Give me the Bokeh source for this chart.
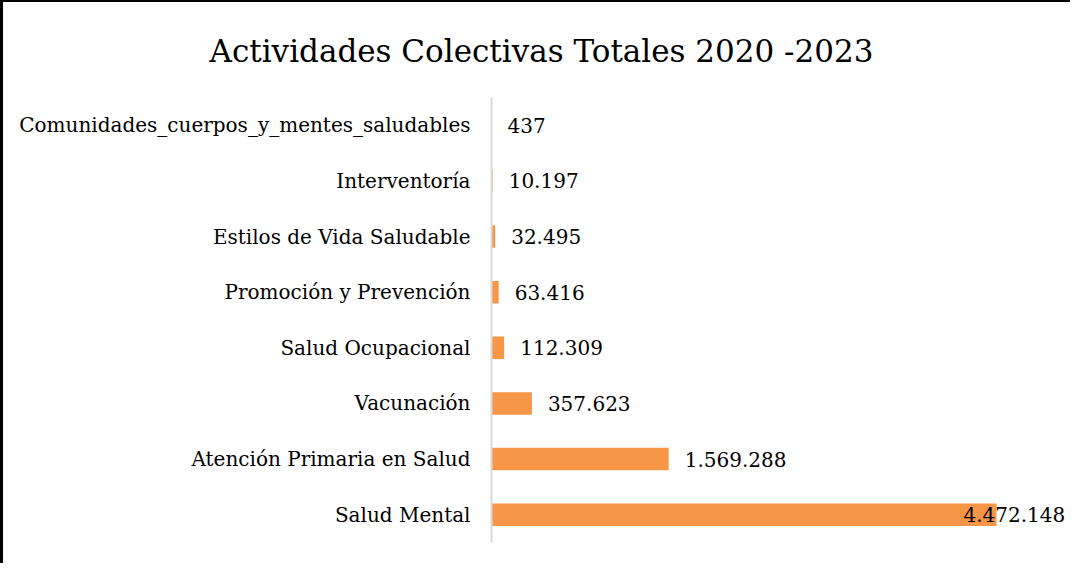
from bokeh.plotting import figure
from bokeh.models import Range1d, FactorRange, ColumnDataSource, Title
from bokeh.core.properties import value
from bokeh.embed import file_html
from bokeh.resources import INLINE

title_text = "Actividades Colectivas Totales 2020 -2023"
categories = [
    "Comunidades_cuerpos_y_mentes_saludables",
    "Interventoría",
    "Estilos de Vida Saludable",
    "Promoción y Prevención",
    "Salud Ocupacional",
    "Vacunación",
    "Atención Primaria en Salud",
    "Salud Mental",
]
values = [437, 10197, 32495, 63416, 112309, 357623, 1569288, 4472148]

FONT = "DejaVu Serif"
BAR = "#F79646"

def fmt(v):
    return f"{v:,}".replace(",", ".")

vmax = max(values)
src = ColumnDataSource(dict(
    cat=categories,
    val=values,
    lab=[fmt(v) for v in values],
    off=[-33 if v == vmax else 16 for v in values],
))

W, H = 1070, 563
p = figure(
    width=W, height=H,
    y_range=FactorRange(factors=categories[::-1]),
    x_range=Range1d(0, vmax * 582 / 505),
    output_backend="svg", toolbar_location=None,
    min_border_left=488, min_border_right=0,
    min_border_top=95, min_border_bottom=23,
)
p.styles = {"border-left": "3px solid black", "border-top": "2px solid black"}
p.outline_line_color = None
p.background_fill_color = "white"
p.border_fill_color = "white"
p.xgrid.visible = False
p.ygrid.visible = False
p.xaxis.visible = False

p.hbar(y="cat", right="val", left=0, height=0.405, source=src,
       fill_color=BAR, line_color=None)

p.text(x="val", y="cat", text="lab", source=src, x_offset="off",
       text_font=value(FONT), text_font_size="20px", text_color="#000000",
       text_baseline="middle", text_align="left")

ax = p.yaxis[0]
ax.axis_line_color = "#d9d9d9"
ax.axis_line_width = 2
ax.major_tick_line_color = None
ax.minor_tick_line_color = None
ax.major_tick_out = 0
ax.major_tick_in = 0
ax.major_label_standoff = 21
ax.major_label_text_font = FONT
ax.major_label_text_font_size = "20px"
ax.major_label_text_color = "#000000"

p.add_layout(Title(text=title_text, align="left", offset=-282, standoff=57,
                   text_font=FONT, text_font_size="31px",
                   text_font_style="normal", text_color="#000000"), "above")

open("out.html", "w").write(file_html(p, INLINE))
